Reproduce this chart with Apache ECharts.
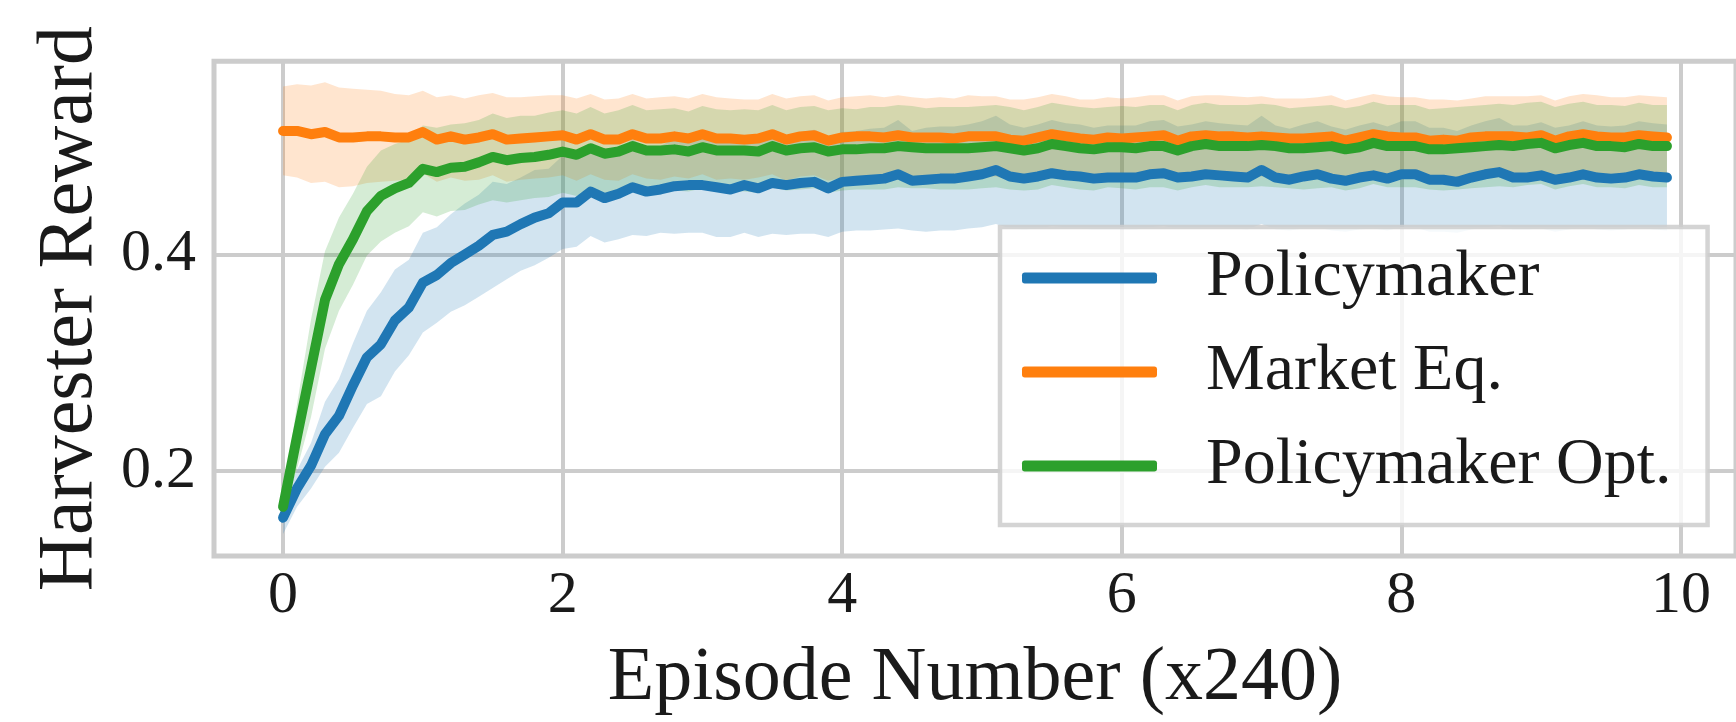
<!DOCTYPE html>
<html>
<head>
<meta charset="utf-8">
<script src="https://cdn.jsdelivr.net/npm/echarts@6/dist/echarts.min.js"></script>
<style>
html,body{margin:0;padding:0;background:#fff;}
#chart{width:1736px;height:722px;}
</style>
</head>
<body>
<div id="chart"></div>
<script>
// ---- data ----
const episodes = [0,0.1,0.2,0.3,0.4,0.5,0.6,0.7,0.8,0.9,1,1.1,1.2,1.3,1.4,1.5,1.6,1.7,1.8,1.9,
  2,2.1,2.2,2.3,2.4,2.5,2.6,2.7,2.8,2.9,3,3.1,3.2,3.3,3.4,3.5,3.6,3.7,3.8,3.9,
  4,4.1,4.2,4.3,4.4,4.5,4.6,4.7,4.8,4.9,5,5.1,5.2,5.3,5.4,5.5,5.6,5.7,5.8,5.9,
  6,6.1,6.2,6.3,6.4,6.5,6.6,6.7,6.8,6.9,7,7.1,7.2,7.3,7.4,7.5,7.6,7.7,7.8,7.9,
  8,8.1,8.2,8.3,8.4,8.5,8.6,8.7,8.8,8.9,9,9.1,9.2,9.3,9.4,9.5,9.6,9.7,9.8,9.9];

const policymakerMean = [0.157,0.184,0.205,0.234,0.251,0.279,0.305,0.317,0.339,0.351,
  0.374,0.381,0.392,0.400,0.408,0.418,0.421,0.428,0.434,0.438,
  0.448,0.448,0.458,0.452,0.456,0.462,0.458,0.460,0.463,0.464,
  0.464,0.462,0.460,0.464,0.461,0.466,0.464,0.466,0.467,0.461,
  0.467,0.468,0.469,0.470,0.474,0.468,0.469,0.470,0.470,0.472,
  0.474,0.478,0.472,0.470,0.472,0.475,0.473,0.472,0.470,0.471,
  0.471,0.471,0.474,0.475,0.471,0.472,0.474,0.473,0.472,0.471,
  0.478,0.471,0.469,0.472,0.474,0.470,0.468,0.471,0.473,0.470,
  0.474,0.474,0.469,0.469,0.467,0.471,0.474,0.476,0.471,0.471,
  0.473,0.469,0.471,0.474,0.471,0.470,0.471,0.474,0.472,0.471];
const policymakerSd = [0.015,0.017,0.021,0.030,0.034,0.039,0.043,0.048,0.047,0.044,
  0.046,0.044,0.045,0.047,0.047,0.049,0.044,0.043,0.044,0.041,
  0.043,0.041,0.041,0.041,0.042,0.044,0.041,0.040,0.044,0.044,
  0.044,0.046,0.044,0.044,0.045,0.047,0.046,0.047,0.048,0.045,
  0.046,0.046,0.047,0.047,0.050,0.046,0.048,0.048,0.048,0.048,
  0.049,0.050,0.048,0.047,0.048,0.049,0.048,0.048,0.047,0.048,
  0.048,0.048,0.049,0.049,0.047,0.048,0.049,0.048,0.048,0.048,
  0.050,0.048,0.047,0.048,0.049,0.048,0.047,0.048,0.049,0.048,
  0.049,0.049,0.048,0.048,0.047,0.048,0.049,0.050,0.048,0.048,
  0.049,0.048,0.048,0.049,0.048,0.048,0.048,0.049,0.049,0.049];

const marketMean = [0.514,0.514,0.511,0.513,0.508,0.508,0.509,0.509,0.508,0.508,
  0.513,0.506,0.509,0.506,0.508,0.511,0.506,0.507,0.508,0.509,
  0.510,0.506,0.511,0.506,0.506,0.511,0.507,0.507,0.509,0.507,
  0.511,0.507,0.507,0.506,0.507,0.511,0.506,0.509,0.510,0.505,
  0.508,0.509,0.509,0.508,0.510,0.508,0.508,0.508,0.507,0.509,
  0.509,0.509,0.506,0.505,0.508,0.511,0.509,0.507,0.506,0.508,
  0.507,0.508,0.509,0.510,0.505,0.509,0.510,0.509,0.509,0.508,
  0.509,0.508,0.507,0.507,0.508,0.509,0.505,0.508,0.511,0.509,
  0.508,0.508,0.505,0.506,0.505,0.508,0.509,0.509,0.509,0.508,
  0.510,0.505,0.509,0.511,0.509,0.508,0.508,0.510,0.509,0.508];
const marketSd = [0.041,0.043,0.045,0.046,0.046,0.045,0.043,0.042,0.040,0.039,
  0.038,0.039,0.038,0.038,0.039,0.038,0.039,0.038,0.038,0.038,
  0.037,0.038,0.037,0.037,0.038,0.037,0.037,0.038,0.037,0.037,
  0.037,0.038,0.037,0.037,0.036,0.037,0.038,0.037,0.037,0.037,
  0.037,0.037,0.038,0.037,0.037,0.037,0.036,0.037,0.037,0.038,
  0.037,0.037,0.037,0.038,0.037,0.037,0.037,0.036,0.037,0.037,
  0.037,0.037,0.038,0.037,0.037,0.037,0.037,0.038,0.037,0.037,
  0.037,0.036,0.037,0.037,0.037,0.038,0.037,0.037,0.037,0.037,
  0.037,0.037,0.038,0.037,0.037,0.036,0.037,0.037,0.037,0.038,
  0.037,0.037,0.037,0.037,0.038,0.037,0.037,0.037,0.037,0.037];

const optMean = [0.167,0.232,0.295,0.358,0.391,0.414,0.440,0.454,0.461,0.466,
  0.479,0.476,0.480,0.481,0.485,0.490,0.487,0.489,0.490,0.492,
  0.495,0.492,0.498,0.493,0.495,0.500,0.496,0.496,0.497,0.495,
  0.499,0.496,0.496,0.496,0.495,0.500,0.496,0.498,0.499,0.495,
  0.497,0.497,0.498,0.498,0.500,0.499,0.498,0.498,0.498,0.498,
  0.499,0.500,0.498,0.496,0.498,0.502,0.500,0.498,0.497,0.499,
  0.499,0.498,0.500,0.500,0.496,0.500,0.502,0.500,0.500,0.500,
  0.501,0.500,0.498,0.498,0.499,0.500,0.497,0.499,0.503,0.500,
  0.500,0.500,0.497,0.497,0.498,0.499,0.500,0.501,0.500,0.502,
  0.503,0.498,0.501,0.503,0.500,0.500,0.499,0.502,0.500,0.500];
const optSd = [0.005,0.030,0.045,0.045,0.043,0.042,0.041,0.042,0.041,0.040,
  0.040,0.041,0.040,0.040,0.039,0.040,0.039,0.039,0.038,0.039,
  0.038,0.038,0.038,0.037,0.038,0.038,0.037,0.038,0.038,0.037,
  0.038,0.038,0.037,0.038,0.038,0.038,0.037,0.038,0.038,0.038,
  0.038,0.037,0.038,0.038,0.038,0.038,0.037,0.038,0.038,0.038,
  0.038,0.038,0.038,0.037,0.038,0.038,0.038,0.038,0.038,0.037,
  0.038,0.038,0.038,0.038,0.037,0.038,0.038,0.038,0.038,0.038,
  0.038,0.038,0.037,0.038,0.038,0.038,0.038,0.038,0.038,0.038,
  0.038,0.038,0.037,0.038,0.038,0.038,0.038,0.038,0.038,0.038,
  0.038,0.038,0.038,0.038,0.038,0.038,0.038,0.038,0.038,0.038];

const xTicks = [0, 2, 4, 6, 8, 10];
const yTicks = [0.2, 0.4];
const seriesNames = ['Policymaker', 'Market Eq.', 'Policymaker Opt.'];

// ---- styling ----
const FONT = '"Liberation Serif", "DejaVu Serif", serif';
const colors = ['#1f77b4', '#ff7f0e', '#2ca02c'];
const bandColors = ['rgba(31,119,180,0.2)', 'rgba(255,127,14,0.2)', 'rgba(44,160,44,0.2)'];
const groups = [
  {mean: policymakerMean, sd: policymakerSd},
  {mean: marketMean, sd: marketSd},
  {mean: optMean, sd: optSd}
];

const series = [];
groups.forEach((g, k) => {
  const rows = episodes.map((x, i) => [x, g.mean[i] - g.sd[i], g.mean[i] + g.sd[i]]);
  series.push({
    name: 'band_' + k, type: 'custom', data: rows, silent: true, z: 1,
    encode: {x: 0, y: [1, 2]},
    renderItem: function (params, api) {
      if (params.dataIndexInside !== 0) return null;
      const n = params.dataInsideLength;
      const up = [], lo = [];
      for (let i = 0; i < n; i++) {
        const x = api.value(0, i);
        up.push(api.coord([x, api.value(2, i)]));
        lo.push(api.coord([x, api.value(1, i)]));
      }
      return {
        type: 'polygon',
        shape: {points: up.concat(lo.reverse())},
        style: {fill: bandColors[k], stroke: null}
      };
    }
  });
});
groups.forEach((g, k) => {
  series.push({
    name: seriesNames[k], type: 'line',
    data: episodes.map((x, i) => [x, g.mean[i]]),
    symbol: 'none', z: 3 + k,
    itemStyle: {color: colors[k]},
    lineStyle: {color: colors[k], width: 10, cap: 'round', join: 'round'}
  });
});

const chart = echarts.init(document.getElementById('chart'), null, {renderer: 'canvas'});
chart.setOption({
  animation: false,
  backgroundColor: '#ffffff',
  grid: {
    left: 214, top: 61.3, width: 1527.6, height: 496.2,
    show: true, borderColor: '#cccccc', borderWidth: 5, backgroundColor: 'transparent'
  },
  xAxis: {
    type: 'value', min: -0.494, max: 10.394,
    axisLine: {show: false},
    axisTick: {show: false, customValues: xTicks},
    axisLabel: {customValues: xTicks, fontFamily: FONT, fontSize: 60, color: '#1a1a1a', margin: 10},
    splitLine: {show: true, lineStyle: {color: '#cccccc', width: 4}},
    name: 'Episode Number (x240)', nameLocation: 'middle', nameGap: 85,
    nameTextStyle: {fontFamily: FONT, fontSize: 76, color: '#1a1a1a'}
  },
  yAxis: {
    type: 'value', min: 0.1216, max: 0.5783,
    axisLine: {show: false},
    axisTick: {show: false, customValues: yTicks},
    axisLabel: {customValues: yTicks, fontFamily: FONT, fontSize: 60, color: '#1a1a1a', margin: 18},
    splitLine: {show: true, lineStyle: {color: '#cccccc', width: 4}},
    name: 'Harvester Reward', nameLocation: 'middle', nameGap: 104,
    nameTextStyle: {fontFamily: FONT, fontSize: 78, color: '#1a1a1a'}
  },
  legend: {
    data: seriesNames,
    orient: 'vertical', left: 1000, top: 227,
    icon: 'roundRect', itemWidth: 135, itemHeight: 11, itemGap: 28,
    itemStyle: {borderWidth: 0},
    selectedMode: false,
    textStyle: {fontFamily: FONT, fontSize: 66, color: '#1a1a1a', padding: [0, 0, 0, 44]},
    backgroundColor: 'rgba(255,255,255,0.8)',
    borderColor: 'rgba(204,204,204,0.85)', borderWidth: 4.5,
    padding: [18, 36, 26, 22]
  },
  series: series
});
</script>
</body>
</html>
